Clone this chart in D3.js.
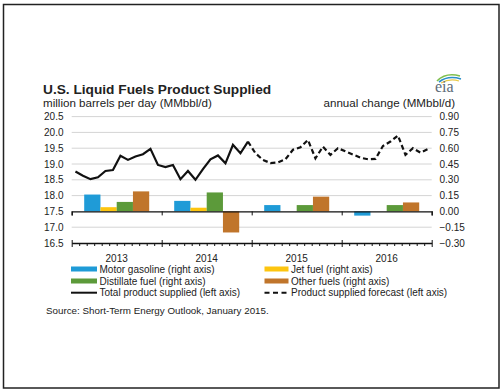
<!DOCTYPE html>
<html>
<head>
<meta charset="utf-8">
<script src="https://cdn.jsdelivr.net/npm/d3@7"></script>
<style>
  body { margin: 0; background: #fff; }
  text { font-family: "Liberation Sans", Arial, sans-serif; fill: #222; }
</style>
</head>
<body>
<div id="chart"></div>
<script>
// annual change bars (right axis, MMbbl/d)
var years = [2013, 2014, 2015, 2016];
var fuels = ["Motor gasoline", "Jet fuel", "Distillate fuel", "Other fuels"];
var motorGasoline = [0.16, 0.10, 0.06, -0.04];
var jetFuel = [0.04, 0.035, 0, 0];
var distillate = [0.09, 0.18, 0.06, 0.06];
var otherFuels = [0.19, -0.20, 0.14, 0.085];

// total product supplied, monthly (left axis)
var totalSupplied = [18.76, 18.63, 18.52, 18.58, 18.78, 18.81, 19.26, 19.13, 19.24, 19.31, 19.48, 18.97,
                     18.90, 18.97, 18.52, 18.78, 18.50, 18.84, 19.15, 19.27, 19.02, 19.61, 19.34, 19.71];
var forecast = [19.34, 19.13, 19.03, 19.05, 19.15, 19.45, 19.53, 19.76, 19.18, 19.55, 19.29, 19.50,
                19.40, 19.30, 19.20, 19.15, 19.16, 19.57, 19.71, 19.90, 19.29, 19.50, 19.36, 19.47];

var leftTicks = [16.5, 17.0, 17.5, 18.0, 18.5, 19.0, 19.5, 20.0, 20.5];
var rightTicks = [-0.30, -0.15, 0, 0.15, 0.30, 0.45, 0.60, 0.75, 0.90];

var colors = ["#1f9bd7", "#fdc50f", "#5c9a3a", "#c0752b"];

var w = 504, h = 391;
var x0 = 71.7, x1 = 431.7, yTop = 116.6, yBot = 243;

var svg = d3.select("#chart").append("svg")
    .attr("width", w)
    .attr("height", h);

// frame
svg.append("rect")
    .attr("x", 3.5).attr("y", 4.5)
    .attr("width", 495.5).attr("height", 383.5)
    .attr("fill", "none")
    .attr("stroke", "#222")
    .attr("stroke-width", 1.5);

// scales
var yL = d3.scaleLinear().domain([16.5, 20.5]).range([yBot, yTop]);
var yR = d3.scaleLinear().domain([-0.30, 0.90]).range([yBot, yTop]);
var xm = d3.scaleLinear().domain([0, 48]).range([x0, x1]);
var xYear = d3.scaleBand().domain(years).range([x0, x1]);
var xFuel = d3.scaleBand().domain(fuels).range([12.5, 77.5]);

// titles
svg.append("text")
    .attr("x", 43).attr("y", 94)
    .style("font-size", "13.7px")
    .style("font-weight", "bold")
    .text("U.S. Liquid Fuels Product Supplied");
svg.append("text")
    .attr("x", 43).attr("y", 107)
    .style("font-size", "11.6px")
    .text("million barrels per day (MMbbl/d)");
svg.append("text")
    .attr("x", 455).attr("y", 107)
    .attr("text-anchor", "end")
    .style("font-size", "11.6px")
    .text("annual change (MMbbl/d)");

// eia logo
var logo = svg.append("g").attr("transform", "translate(434,73)");
logo.append("path").attr("d", "M3,8 Q12,-1 26,3").attr("fill", "none").attr("stroke", "#7fbf4d").attr("stroke-width", 1.6);
logo.append("path").attr("d", "M5,9 Q14,2 27,6").attr("fill", "none").attr("stroke", "#2a8fc9").attr("stroke-width", 1.6);
logo.append("path").attr("d", "M7,10 Q16,5 25,8").attr("fill", "none").attr("stroke", "#e8c94a").attr("stroke-width", 1.2);
logo.append("text")
    .attr("x", 1).attr("y", 19)
    .style("font-family", "'Liberation Serif', 'DejaVu Serif', serif")
    .style("font-size", "16px")
    .style("fill", "#5d6b78")
    .text("eia");

// grid lines
svg.append("g").selectAll("line")
    .data(leftTicks.filter(function(d) { return d != 17.5 && d != 16.5; }))
    .enter().append("line")
    .attr("x1", x0).attr("x2", x1)
    .attr("y1", function(d) { return yL(d); })
    .attr("y2", function(d) { return yL(d); })
    .attr("stroke", "#d4d4d4")
    .attr("stroke-width", 1);

// left tick labels
svg.append("g").selectAll("text")
    .data(leftTicks)
    .enter().append("text")
    .attr("x", 63.5)
    .attr("y", function(d) { return yL(d); })
    .attr("dy", "0.35em")
    .attr("text-anchor", "end")
    .style("font-size", "10px")
    .text(function(d) { return d3.format(".1f")(d); });

// right tick labels
svg.append("g").selectAll("text")
    .data(rightTicks)
    .enter().append("text")
    .attr("x", 439.5)
    .attr("y", function(d) { return yR(d); })
    .attr("dy", "0.35em")
    .style("font-size", "10px")
    .text(function(d) { return d3.format(".2f")(d); });

// bars
var series = [motorGasoline, jetFuel, distillate, otherFuels];
var barData = [];
years.forEach(function(yr, i) {
    series.forEach(function(s, j) {
        barData.push({ year: yr, fuel: fuels[j], value: s[i], color: colors[j] });
    });
});
svg.append("g").selectAll("rect")
    .data(barData)
    .enter().append("rect")
    .attr("x", function(d) { return xYear(d.year) + xFuel(d.fuel); })
    .attr("width", xFuel.bandwidth())
    .attr("y", function(d) { return Math.min(yR(d.value), yR(0)); })
    .attr("height", function(d) { return Math.abs(yR(d.value) - yR(0)); })
    .attr("fill", function(d) { return d.color; });

// zero line with year ticks
var zeroAxis = d3.axisBottom(xm).tickValues([0, 12, 24, 36, 48]).tickSize(4).tickFormat("");
svg.append("g")
    .attr("transform", "translate(0," + yR(0) + ")")
    .call(zeroAxis)
    .call(function(g) {
        g.select(".domain").attr("stroke", "#111").attr("stroke-width", 1.3);
        g.selectAll(".tick line").attr("stroke", "#111");
    });

// bottom axis: month ticks + year ticks
var monthAxis = d3.axisBottom(xm).tickValues(d3.range(0, 49)).tickSize(3).tickFormat("").tickSizeOuter(0);
svg.append("g")
    .attr("transform", "translate(0," + yBot + ")")
    .call(monthAxis)
    .call(function(g) {
        g.select(".domain").attr("stroke", "#111").attr("stroke-width", 1.3);
        g.selectAll(".tick line").attr("stroke", "#111")
            .attr("y1", function(d) { return d % 12 == 0 ? -3 : 0; })
            .attr("y2", function(d) { return d % 12 == 0 ? 4 : 3; });
    });

// year labels
svg.append("g").selectAll("text")
    .data(years)
    .enter().append("text")
    .attr("x", function(d) { return xYear(d) + xYear.bandwidth() / 2; })
    .attr("y", 261.5)
    .attr("text-anchor", "middle")
    .style("font-size", "10px")
    .text(function(d) { return d; });

// lines
var line = d3.line()
    .x(function(d) { return xm(d.i + 0.5); })
    .y(function(d) { return yL(d.v); });

var histPts = totalSupplied.map(function(v, i) { return { i: i, v: v }; });
var fcPts = [histPts[histPts.length - 1]].concat(forecast.map(function(v, i) {
    return { i: totalSupplied.length + i, v: v };
}));

svg.append("path")
    .datum(histPts)
    .attr("d", line)
    .attr("fill", "none")
    .attr("stroke", "#111")
    .attr("stroke-width", 2.2)
    .attr("stroke-linejoin", "miter");

svg.append("path")
    .datum(fcPts)
    .attr("d", line)
    .attr("fill", "none")
    .attr("stroke", "#111")
    .attr("stroke-width", 2.2)
    .attr("stroke-dasharray", "5,3");

// legend
var legendItems = [
    { label: "Motor gasoline (right axis)", color: colors[0], type: "rect", col: 0, row: 0 },
    { label: "Jet fuel (right axis)", color: colors[1], type: "rect", col: 1, row: 0 },
    { label: "Distillate fuel (right axis)", color: colors[2], type: "rect", col: 0, row: 1 },
    { label: "Other fuels (right axis)", color: colors[3], type: "rect", col: 1, row: 1 },
    { label: "Total product supplied (left axis)", color: "#111", type: "solid", col: 0, row: 2 },
    { label: "Product supplied forecast (left axis)", color: "#111", type: "dash", col: 1, row: 2 }
];
var colX = [71, 264.5], colW = [26, 24], rowY = [269, 281, 292.7];

var legend = svg.append("g");
var li = legend.selectAll(".legend")
    .data(legendItems)
    .enter().append("g")
    .attr("class", "legend")
    .attr("transform", function(d) {
        return "translate(" + colX[d.col] + "," + rowY[d.row] + ")";
    });
li.filter(function(d) { return d.type == "rect"; })
    .append("rect")
    .attr("x", 0).attr("y", -2.5)
    .attr("width", function(d) { return colW[d.col]; })
    .attr("height", 5)
    .attr("fill", function(d) { return d.color; });
li.filter(function(d) { return d.type != "rect"; })
    .append("line")
    .attr("x1", 0)
    .attr("x2", function(d) { return colW[d.col]; })
    .attr("y1", 0).attr("y2", 0)
    .attr("stroke", "#111")
    .attr("stroke-width", 2)
    .attr("stroke-dasharray", function(d) { return d.type == "dash" ? "5,3.5" : null; });
li.append("text")
    .attr("x", function(d) { return colW[d.col] + 2.5; })
    .attr("y", 0)
    .attr("dy", "0.35em")
    .style("font-size", "10px")
    .text(function(d) { return d.label; });

// source
svg.append("text")
    .attr("x", 46).attr("y", 314)
    .style("font-size", "9.8px")
    .text("Source: Short-Term Energy Outlook, January 2015.");
</script>
</body>
</html>
